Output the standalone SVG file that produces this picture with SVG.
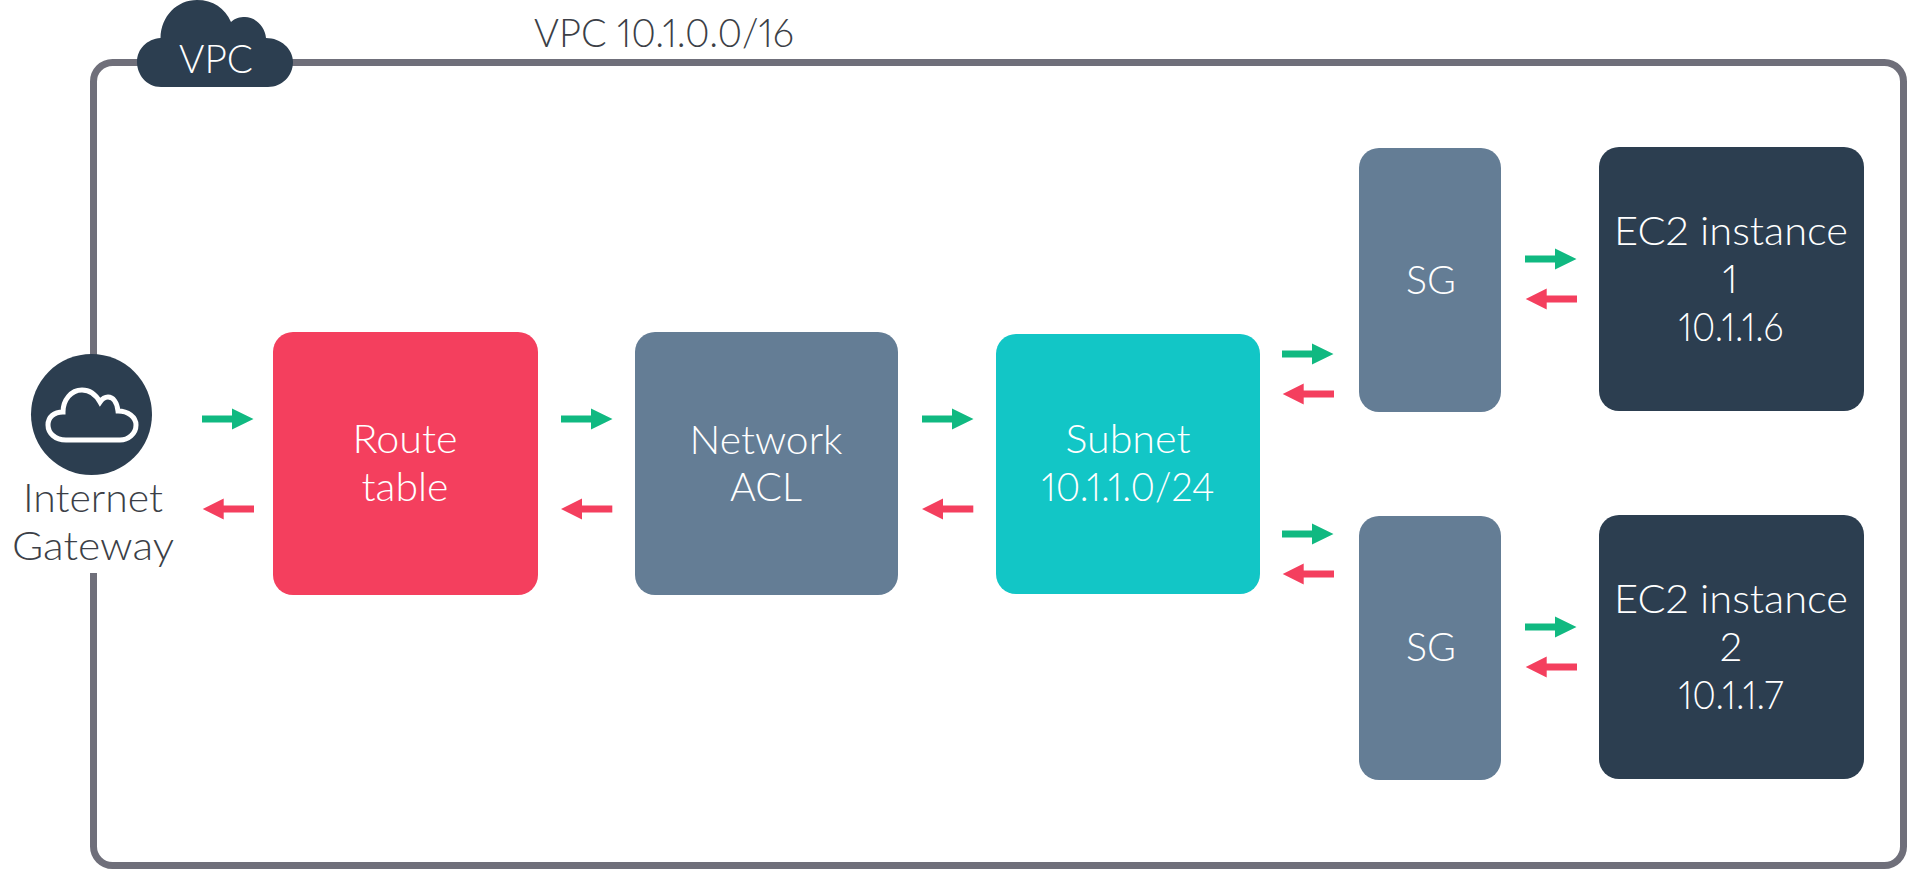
<svg xmlns="http://www.w3.org/2000/svg" width="1920" height="869" viewBox="0 0 1920 869">
<style>
text{font-family:"Lato","Liberation Sans",sans-serif;font-weight:300;text-anchor:middle;font-size:40px;font-variant-numeric:proportional-nums;font-feature-settings:"pnum" 1}
.w{fill:#fff}.d{fill:#3c3f47}
.slate{fill:#647d95}.navy{fill:#2c3e50}
.g{fill:#10b981}.r{fill:#f43f5e}
</style>
<defs>
<path id="ga" d="M0-3.5H30V-10.5L51.5 0 30 10.500V3.500H0Z"/>
<path id="ra" d="M0 0L21-10.500V-3.500H51.300V3.500H21V10.500Z"/>
</defs>
<rect width="1920" height="869" fill="#fff"/>
<g id="vpc-border"><rect x="93.500" y="62.500" width="1810" height="803" rx="19" fill="none" stroke="#6f6f7a" stroke-width="7"/></g>
<g id="vpc-cloud">
<path class="navy" d="M161 87C146 87 137 74 137 62C137 49 147 39 160.500 38C161 16 177 0 197 0C213 0 225 8 231 22C235 18 240 17 245 17C255 17 265 26 266 38C281 38 293 49 293 62C293 76 282 87 268 87Z"/>
<text class="w" x="216" y="73" textLength="74" lengthAdjust="spacingAndGlyphs">VPC</text>
</g>
<text class="d" x="664" y="47" textLength="260" lengthAdjust="spacingAndGlyphs">VPC 10.1.0.0/16</text>
<g id="internet-gateway">
<rect x="85" y="470" width="17" height="103" fill="#fff"/>
<circle cx="91.500" cy="414.500" r="60.500" class="navy"/>
<path d="M66 440C55 440 48 433 48 425C48 417 54 412 63 412C63 400 71 390 82 390C90 390 96 395 100 402C102 399 105 397 108 397C113 397 117 402 118 411C128 411 136 417 136 425C136 434 128 440 120 440Z" fill="none" stroke="#fff" stroke-width="5"/>
<text class="d" x="93" y="512" textLength="140" lengthAdjust="spacingAndGlyphs">Internet</text>
<text class="d" x="93" y="560" textLength="162" lengthAdjust="spacingAndGlyphs">Gateway</text>
</g>
<g id="route-table"><rect x="273" y="332" width="265" height="263" rx="20" class="r"/><text class="w" x="405" y="453" textLength="105" lengthAdjust="spacingAndGlyphs">Route</text><text class="w" x="405" y="501" textLength="87" lengthAdjust="spacingAndGlyphs">table</text></g>
<g id="network-acl"><rect x="635" y="332" width="263" height="263" rx="20" class="slate"/><text class="w" x="766" y="454" textLength="153" lengthAdjust="spacingAndGlyphs">Network</text><text class="w" x="766" y="501" textLength="72" lengthAdjust="spacingAndGlyphs">ACL</text></g>
<g id="subnet"><rect x="996" y="334" width="264" height="260" rx="20" fill="#12c6c6"/><text class="w" x="1128" y="453" textLength="125" lengthAdjust="spacingAndGlyphs">Subnet</text><text class="w" x="1128" y="501" textLength="173" lengthAdjust="spacingAndGlyphs">10.1.1.0/24</text></g>
<g id="sg-1"><rect x="1359" y="148" width="142" height="264" rx="20" class="slate"/><text class="w" x="1431" y="294" textLength="50" lengthAdjust="spacingAndGlyphs">SG</text></g>
<g id="sg-2"><rect x="1359" y="516" width="142" height="264" rx="20" class="slate"/><text class="w" x="1431" y="661" textLength="50" lengthAdjust="spacingAndGlyphs">SG</text></g>
<g id="ec2-1"><rect x="1599" y="147" width="265" height="264" rx="20" class="navy"/><text class="w" x="1731" y="245" textLength="234" lengthAdjust="spacingAndGlyphs">EC2 instance</text><text class="w" x="1730" y="293">1</text><text class="w" x="1731" y="341" textLength="105" lengthAdjust="spacingAndGlyphs">10.1.1.6</text></g>
<g id="ec2-2"><rect x="1599" y="515" width="265" height="264" rx="20" class="navy"/><text class="w" x="1731" y="613" textLength="234" lengthAdjust="spacingAndGlyphs">EC2 instance</text><text class="w" x="1731" y="661">2</text><text class="w" x="1731" y="709" textLength="105" lengthAdjust="spacingAndGlyphs">10.1.1.7</text></g>
<g id="connectors">
<use href="#ga" class="g" x="202" y="419"/><use href="#ra" class="r" x="202.700" y="509"/>
<use href="#ga" class="g" x="561" y="419"/><use href="#ra" class="r" x="561" y="509"/>
<use href="#ga" class="g" x="922" y="419"/><use href="#ra" class="r" x="922" y="509"/>
<use href="#ga" class="g" x="1282" y="354"/><use href="#ra" class="r" x="1282.700" y="394"/>
<use href="#ga" class="g" x="1282" y="534"/><use href="#ra" class="r" x="1282.700" y="574"/>
<use href="#ga" class="g" x="1525" y="259"/><use href="#ra" class="r" x="1525.700" y="299"/>
<use href="#ga" class="g" x="1525" y="627"/><use href="#ra" class="r" x="1525.700" y="667"/>
</g>
</svg>
